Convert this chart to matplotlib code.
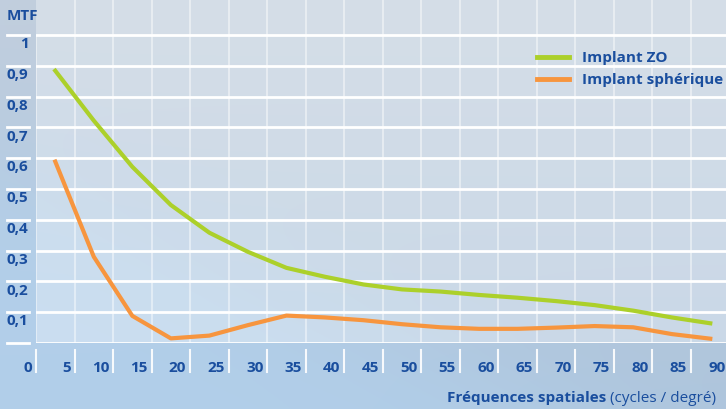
import numpy as np
import matplotlib
matplotlib.use("Agg")
import matplotlib.pyplot as plt

plt.rcParams['font.family'] = ['Open Sans', 'DejaVu Sans']

# MTF curves
freq = [2.5, 7.5, 12.5, 17.5, 22.5, 27.5, 32.5, 37.5, 42.5, 47.5,
        52.5, 57.5, 62.5, 67.5, 72.5, 77.5, 82.5, 87.5]
mtf_zo = [0.884, 0.722, 0.572, 0.448, 0.358, 0.296, 0.244, 0.215, 0.190, 0.174,
          0.167, 0.156, 0.147, 0.136, 0.123, 0.105, 0.083, 0.064]
mtf_sph = [0.589, 0.280, 0.088, 0.015, 0.024, 0.058, 0.089, 0.083, 0.074, 0.061,
           0.051, 0.046, 0.046, 0.050, 0.055, 0.051, 0.029, 0.014]
labels = ['Implant ZO', 'Implant sphérique']

x_ticks = [0, 5, 10, 15, 20, 25, 30, 35, 40, 45, 50, 55, 60, 65, 70, 75, 80, 85, 90]
y_ticks = [0.1, 0.2, 0.3, 0.4, 0.5, 0.6, 0.7, 0.8, 0.9, 1.0]
y_tick_labels = ['0,1', '0,2', '0,3', '0,4', '0,5', '0,6', '0,7', '0,8', '0,9', '1']

TXT = '#1a4e9e'
GREEN = '#acd02a'
ORANGE = '#f7953e'
FS = 11
W, H = 726, 409

fig = plt.figure(figsize=(W / 100, H / 100), dpi=100)

# background gradient
bg = fig.add_axes([0, 0, 1, 1], zorder=-10)
yy, xx = np.mgrid[0:H, 0:W]
t = (yy / H)[..., None]
top = np.array([0.76, 0.81, 0.87])
bottom = np.array([0.68, 0.77, 0.86])
base = top * (1 - t) + bottom * t
d = (yy - 170) - (xx * (409 - 170) / 560.0)
s = (1 / (1 + np.exp(-d / 40.0)))[..., None]
light = np.array([0.70, 0.82, 0.93])
img = base * (1 - 0.8 * s) + light * 0.8 * s
bg.imshow(img, aspect='auto', extent=[0, 1, 0, 1])
bg.axis('off')

x0, y0 = 36, 343
ppu = 7.706
ax = fig.add_axes([x0 / W, (H - y0) / H, (W - x0) / W, y0 / H])
ax.set_facecolor((1, 1, 1, 0.32))
ax.set_xlim(0, (W - x0) / ppu)
ax.set_ylim(0, y0 / 308.0)
for sp in ax.spines.values():
    sp.set_visible(False)
ax.set_xticks([])
ax.set_yticks([])

# grid
ax.vlines(0, 0, 1, color='white', alpha=0.45, lw=1.5, zorder=1)
for v in x_ticks[1:-1]:
    ax.axvline(v, color='white', alpha=0.45, lw=1.5, zorder=1)
for v in [0.0] + y_ticks:
    ax.axhline(v, color='white', lw=2, zorder=1)

ytr = ax.get_yaxis_transform()
xtr = ax.get_xaxis_transform()
for v, lab in zip([0.0] + y_ticks, [''] + y_tick_labels):
    ax.plot([-0.042, -0.010], [v, v], color='white', lw=2, transform=ytr, clip_on=False)
    if lab:
        ax.text(-0.011, v - 0.03, lab, transform=ytr, ha='right', va='center',
                color=TXT, fontsize=FS, fontweight='bold')
for v in x_ticks:
    ax.plot([v, v], [-0.0204, -0.0845], color='white', lw=1.5, alpha=0.9,
            transform=xtr, clip_on=False)
    ax.text(v - 0.5, -0.073, str(v), transform=xtr, ha='right', va='center',
            color=TXT, fontsize=FS, fontweight='bold', clip_on=False)

ax.plot(freq, mtf_zo, color=GREEN, lw=3, label=labels[0], zorder=3)
ax.plot(freq, mtf_sph, color=ORANGE, lw=3, label=labels[1], zorder=3)

leg = ax.legend(loc='upper left', bbox_to_anchor=(537 / W, 1 - 51 / H),
                bbox_transform=fig.transFigure, frameon=False, borderpad=0,
                borderaxespad=0, handlelength=2.1, handletextpad=0.85,
                labelspacing=0.55, prop={'weight': 'bold', 'size': FS})
for txt in leg.get_texts():
    txt.set_color(TXT)
for ln in leg.get_lines():
    ln.set_linewidth(3.5)

fig.text(7 / W, 1 - 16 / H, 'MTF', ha='left', va='center', color=TXT,
         fontsize=FS, fontweight='bold')
t2 = fig.text(716 / W, 1 - 398 / H, '(cycles / degré)', ha='right', va='center',
              color=TXT, fontsize=FS)
ax.annotate('Fréquences spatiales', xy=(0, 0.5), xycoords=t2, xytext=(-3, 0),
            textcoords='offset points', ha='right', va='center', color=TXT,
            fontsize=FS, fontweight='bold', annotation_clip=False)

fig.savefig('out.png', dpi=100)
